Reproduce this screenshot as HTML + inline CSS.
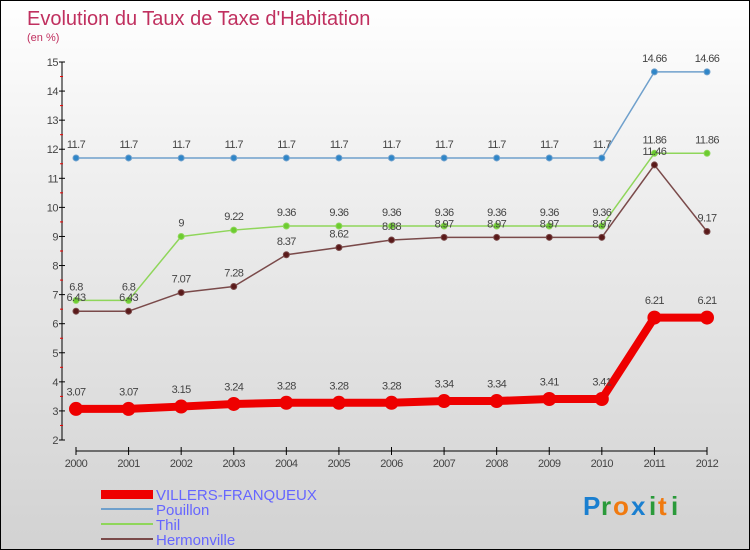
<!DOCTYPE html>
<html><head><meta charset="utf-8"><style>
body{margin:0}
#c{width:750px;height:550px;position:relative;box-sizing:border-box;border:1px solid #000;background:linear-gradient(#fff,#f0f0f0 30%,#d2d2d2);font-family:"Liberation Sans",sans-serif;overflow:hidden}
text{font-family:"Liberation Sans",sans-serif}
</style></head><body>
<div id="c">
<svg id="s" width="750" height="550">
<text x="26" y="24" font-size="20" fill="#c0305f">Evolution du Taux de Taxe d'Habitation</text>
<text x="26" y="40" font-size="11" fill="#c0305f">(en %)</text>
<g id="g"></g>
<g>
<rect x="100" y="489" width="52" height="9" fill="#e00"/>
<text x="155" y="499" font-size="15" fill="#6666ff">VILLERS-FRANQUEUX</text>
<line x1="100" y1="508" x2="152" y2="508" stroke="#6fa0cc" stroke-width="2"/>
<text x="155" y="514" font-size="15" fill="#6666ff">Pouillon</text>
<line x1="100" y1="523" x2="152" y2="523" stroke="#8fd65a" stroke-width="2"/>
<text x="155" y="529" font-size="15" fill="#6666ff">Thil</text>
<line x1="100" y1="538" x2="152" y2="538" stroke="#7a4a4a" stroke-width="2"/>
<text x="155" y="544" font-size="15" fill="#6666ff">Hermonville</text>
</g>
<g font-size="26" font-weight="bold">
<text x="582" y="514" fill="#1a7fd0">P</text><text x="600" y="514" fill="#2a9a3a">r</text><text x="612" y="514" fill="#f07a10">o</text><text x="630" y="514" fill="#1a7fd0">x</text><text x="648" y="514" fill="#2a9a3a">i</text><text x="657" y="514" fill="#f07a10">t</text><text x="670" y="514" fill="#2a9a3a">i</text>
</g>
</svg>
</div>
<script>
const years=[2000,2001,2002,2003,2004,2005,2006,2007,2008,2009,2010,2011,2012];
const yTicks=[2,3,4,5,6,7,8,9,10,11,12,13,14,15];
const villers=[3.07,3.07,3.15,3.24,3.28,3.28,3.28,3.34,3.34,3.41,3.41,6.21,6.21];
const pouillon=[11.7,11.7,11.7,11.7,11.7,11.7,11.7,11.7,11.7,11.7,11.7,14.66,14.66];
const thil=[6.8,6.8,9,9.22,9.36,9.36,9.36,9.36,9.36,9.36,9.36,11.86,11.86];
const hermonville=[6.43,6.43,7.07,7.28,8.37,8.62,8.88,8.97,8.97,8.97,8.97,11.46,9.17];
const NS="http://www.w3.org/2000/svg";
const g=document.getElementById('g');
const xS=i=>75+i*(706-75)/(years.length-1);
const yS=v=>439-(v-2)*(439-61)/13;
function el(t,a,p){const e=document.createElementNS(NS,t);for(const k in a)e.setAttribute(k,a[k]);(p||g).appendChild(e);return e;}
let ax=el('line',{x1:61,y1:61,x2:61,y2:439,stroke:'#000'});


let bx=el('line',{x1:75,y1:450,x2:706,y2:450,stroke:'#000'});


yTicks.forEach(v=>{
  el('line',{x1:58,y1:yS(v),x2:64,y2:yS(v),stroke:'#000'});
  if(v<15)el('line',{x1:59,y1:yS(v+0.5),x2:62,y2:yS(v+0.5),stroke:'#e00'});
  const t=el('text',{x:57,y:yS(v)+4,'font-size':11,'text-anchor':'end',fill:'#444','letter-spacing':'-0.5'});
  t.textContent=v;
  
  
});
years.forEach((y,i)=>{
  el('line',{x1:xS(i),y1:446,x2:xS(i),y2:454,stroke:'#000'});
  const t=el('text',{x:xS(i),y:466,'font-size':11,'text-anchor':'middle',fill:'#444','letter-spacing':'-0.5'});
  t.textContent=y;
  
  
});
function series(vals,color,w,r,name,dot){
  const pts=vals.map((v,i)=>xS(i)+','+yS(v)).join(' ');
  const pl=el('polyline',{points:pts,fill:'none',stroke:color,'stroke-width':w,'stroke-linejoin':'round'});
  
  
  vals.forEach((v,i)=>{
    const c=el('circle',{cx:xS(i),cy:yS(v),r:r,fill:dot,stroke:color,'stroke-width':1});
    
    
    const t=el('text',{x:xS(i),y:yS(v)-(r+7),'font-size':11,'text-anchor':'middle',fill:'#444','letter-spacing':'-0.6'});
    t.textContent=v;
    
    
  });
}
series(pouillon,'#6fa0cc',1.5,3,'pouillon','#2f86c8');
series(thil,'#8fd65a',1.5,3,'thil','#6ccc30');
series(hermonville,'#7a4a4a',1.5,3,'hermonville','#5a1a1a');
series(villers,'#e00',8,6.5,'villers','#e00');
</script>
</body></html>
